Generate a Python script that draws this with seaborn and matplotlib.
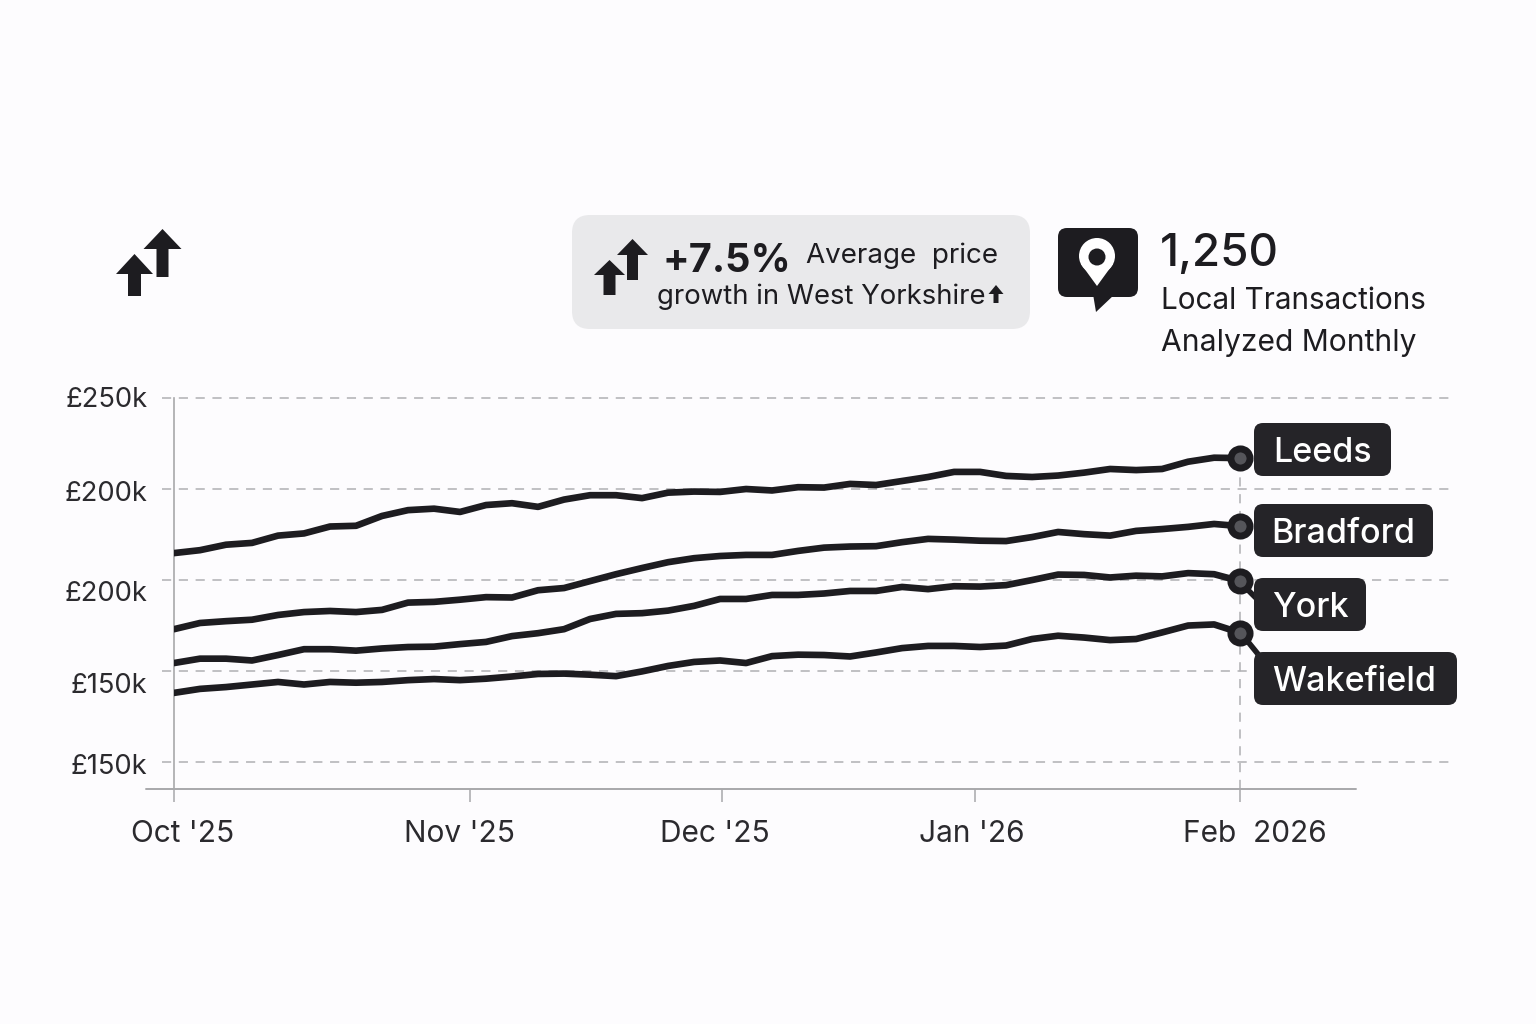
import matplotlib.pyplot as plt
import pandas as pd
import seaborn as sns
from matplotlib.patches import Circle, FancyBboxPatch, Polygon
from matplotlib.transforms import ScaledTranslation

# one sample every ~2.7 days, positions are sample numbers
leeds = [207.4, 208.2, 209.7, 210.2, 212.2, 212.8, 214.7, 214.9, 217.6, 219.2, 219.6, 218.7, 220.6, 221.1,
         220.1, 222.1, 223.3, 223.3, 222.5, 224.0, 224.3, 224.2, 225.0, 224.6, 225.5, 225.4, 226.4, 226.1,
         227.2, 228.3, 229.7, 229.7, 228.6, 228.3, 228.7, 229.5, 230.5, 230.2, 230.5, 232.5, 233.6, 233.5]
bradford = [186.5, 188.2, 188.7, 189.1, 190.4, 191.2, 191.5, 191.2, 191.8, 193.8, 194.0, 194.6, 195.3, 195.2,
            197.2, 197.8, 199.7, 201.6, 203.3, 204.9, 206.0, 206.6, 206.9, 206.9, 208.0, 208.9, 209.2, 209.3,
            210.4, 211.3, 211.1, 210.8, 210.7, 211.8, 213.2, 212.6, 212.2, 213.5, 214.0, 214.6, 215.4, 214.8]
york = [177.2, 178.4, 178.4, 177.9, 179.4, 181.0, 181.0, 180.6, 181.2, 181.6, 181.7, 182.4, 183.0, 184.6,
        185.4, 186.5, 189.3, 190.7, 190.9, 191.6, 192.9, 194.8, 194.8, 195.9, 195.9, 196.3, 197.0, 197.0,
        198.1, 197.5, 198.3, 198.2, 198.6, 200.0, 201.5, 201.4, 200.7, 201.2, 201.0, 201.9, 201.6, 199.7]
wakefield = [169.0, 170.1, 170.6, 171.3, 172.0, 171.3, 172.0, 171.8, 172.0, 172.5, 172.8, 172.5, 172.9, 173.5,
             174.2, 174.3, 174.0, 173.6, 174.9, 176.4, 177.5, 177.9, 177.2, 179.1, 179.5, 179.4, 179.0, 180.1,
             181.3, 181.9, 181.9, 181.6, 182.0, 183.8, 184.7, 184.2, 183.5, 183.8, 185.6, 187.5, 187.8, 185.5]
y_ticks = [250, 225, 200, 175, 150]
y_labels = ["£250k", "£200k", "£200k", "£150k", "£150k"]
y_label_shift = [1, -2, -11, -12, -2]
x_ticks = [0, 11.38, 21.08, 30.8, 41]
x_labels = ["Oct '25", "Nov '25", "Dec '25", "Jan '26", "Feb  2026"]
x_label_shift = [9, -10, -7, -3, 15]

DARK = "#1d1c20"
PILL = "#252428"
GRID = "#b0b0b3"
BG = "#fdfcfe"
FONT = "Inter"

sns.set_theme(style="white")
plt.rcParams["font.family"] = [FONT, "DejaVu Sans"]

df = pd.concat(
    [
        pd.DataFrame({"sample": range(len(v)), "price": v, "city": name})
        for name, v in [("Leeds", leeds), ("Bradford", bradford), ("York", york), ("Wakefield", wakefield)]
    ]
)
last = df[df["sample"] == df["sample"].max()]

fig = plt.figure(figsize=(15.36, 10.24), dpi=100, facecolor=BG)
ax = fig.add_axes([174 / 1536, (1024 - 789) / 1024, (1451 - 174) / 1536, 391 / 1024], facecolor="none")

ax.hlines(y_ticks, -0.46, 49.11, color=GRID, lw=1.1, ls=(0, (6, 5)), clip_on=False, zorder=1)
ax.vlines(x_ticks[-1], 142.6, last["price"].max(), color=GRID, lw=1.1, ls=(0, (6, 5)), zorder=1)
ax.plot([-1.08, 45.46], [142.6, 142.6], color="#a8a8ab", lw=1.4, clip_on=False, zorder=1)

sns.lineplot(data=df, x="sample", y="price", units="city", estimator=None, color=DARK, lw=4.8, ax=ax,
             legend=False, zorder=3, solid_joinstyle="round", solid_capstyle="round")
sns.scatterplot(data=last, x="sample", y="price", s=190, color="#55555a", edgecolor=DARK, linewidth=5, ax=ax,
                legend=False, zorder=4, clip_on=False)

ax.set_xlim(0, 49.11)
ax.set_ylim(142.6, 250)
ax.set_xlabel("")
ax.set_ylabel("")
for side in ["top", "right", "bottom"]:
    ax.spines[side].set_visible(False)
ax.spines["left"].set_color("#a8a8ab")
ax.spines["left"].set_linewidth(1.2)
ax.set_yticks(y_ticks, y_labels)
ax.set_xticks(x_ticks, x_labels)
ax.tick_params(axis="y", left=False, length=0, pad=19, labelsize=19.7, labelcolor="#2b2a2e")
ax.tick_params(axis="x", bottom=True, length=9.4, width=1.1, color="#a8a8ab", pad=13, labelsize=21.5,
               labelcolor="#2b2a2e")
for lab, dy in zip(ax.get_yticklabels(), y_label_shift):
    lab.set_transform(lab.get_transform() + ScaledTranslation(0, dy / 100, fig.dpi_scale_trans))
for lab, dx in zip(ax.get_xticklabels(), x_label_shift):
    lab.set_transform(lab.get_transform() + ScaledTranslation(dx / 100, 0, fig.dpi_scale_trans))

# overlay in picture pixels for the callouts and icons
ov = fig.add_axes([0, 0, 1, 1], facecolor="none")
ov.set_xlim(0, 1536)
ov.set_ylim(1024, 0)
ov.axis("off")


def rounded(x0, y0, x1, y1, r, color, z=2):
    ov.add_patch(FancyBboxPatch((x0 + r, y0 + r), x1 - x0 - 2 * r, y1 - y0 - 2 * r,
                                boxstyle=f"round,pad={r},rounding_size={r}", fc=color, ec="none", zorder=z))


def arrow(tip, half_head, half_stem, head_y, bottom):
    x, y = tip
    ov.add_patch(Polygon([(x, y), (x + half_head, head_y), (x + half_stem, head_y), (x + half_stem, bottom),
                          (x - half_stem, bottom), (x - half_stem, head_y), (x - half_head, head_y)],
                         fc=DARK, ec="none", zorder=3))


def label(x, y, s, size, color=DARK, weight="normal", ha="left"):
    ov.text(x, y, s, fontsize=size, color=color, fontweight=weight, ha=ha, va="center_baseline", zorder=6)


arrow((162.5, 229), 19, 6, 249, 277)
arrow((134.5, 254), 18.5, 6.5, 274, 296)

rounded(572, 215, 1030, 329, 18, "#e9e9eb")
arrow((632.5, 239), 15.5, 5.5, 255, 280)
arrow((609.5, 260), 15.5, 6, 275, 295)
arrow((996, 285), 7.5, 2.5, 294, 303)
label(662, 257, "+7.5%", 28.5, weight="bold")
label(806, 253, "Average  price", 20)
label(657, 294, "growth in West Yorkshire", 19.8)

rounded(1058, 228, 1138, 297, 9, DARK)
ov.add_patch(Polygon([(1093, 294), (1115, 294), (1096, 312)], fc=DARK, ec="none", zorder=3))
ov.add_patch(Polygon([(1081, 264), (1113, 264), (1097, 286)], fc="white", ec="none", zorder=4))
ov.add_patch(Circle((1097, 256), 18, fc="white", ec="none", zorder=4))
ov.add_patch(Circle((1097, 257), 8.5, fc=DARK, ec="none", zorder=5))
label(1160, 250, "1,250", 33, weight="medium")
label(1161, 298, "Local Transactions", 21.4)
label(1161, 340, "Analyzed Monthly", 21.6)

ov.plot([1248, 1262], [590, 604], color=DARK, lw=4, zorder=2)
ov.plot([1249, 1266], [643, 664], color=DARK, lw=4, zorder=2)
pills = [("Leeds", 423, 476, 1391, 1273), ("Bradford", 504, 557, 1433, 1271),
         ("York", 578, 631, 1366, 1272), ("Wakefield", 652, 705, 1457, 1272)]
for name, y0, y1, x1, tx in pills:
    rounded(1254, y0, x1, y1, 9, PILL, z=3)
    label(tx, (y0 + y1) / 2, name, 24.5, color="white", weight="medium")

fig.savefig("out.png", dpi=100, facecolor=BG)
